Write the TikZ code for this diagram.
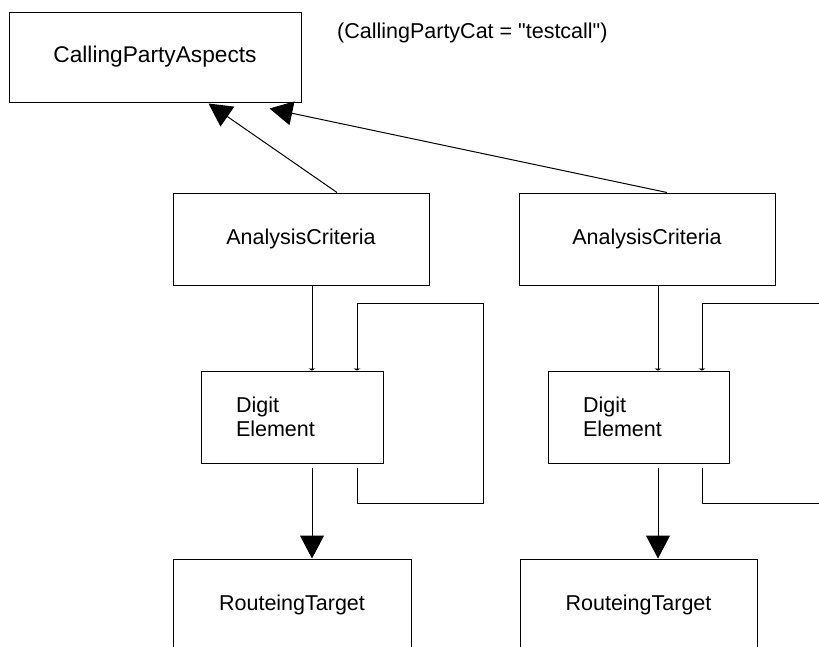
\documentclass[tikz,border=0pt]{standalone}
\usepackage{fontspec}
\setmainfont{Liberation Sans}
% a separate family without TeX ligatures, so that " stays straight
\newfontfamily\diagfont{Liberation Sans}
\usetikzlibrary{arrows.meta,calc}
\tikzset{
  box/.style={draw, line width=1pt, inner sep=0pt, font=\diagfont\fontsize{21.5}{24}\selectfont},
  note/.style={inner sep=0pt, font=\diagfont\fontsize{21.5}{24}\selectfont},
  wire/.style={line width=1pt},
  bigtip/.style={-{Triangle[length=23pt,width=24pt]}},
  smalltip/.style={-{Triangle[length=2pt,width=7pt]}},
}
\begin{document}
\begin{tikzpicture}[x=1pt,y=-1pt]
\useasboundingbox (0,0) rectangle (819,646);
\clip (0,0) rectangle (819,646);

% top class and its condition
\node[box, minimum width=292pt, minimum height=90pt, font=\diagfont\fontsize{22.7}{26}\selectfont] (cpa) at (155,57) {CallingPartyAspects};
\node[note, anchor=west] (cond) at (337,33) {(CallingPartyCat = "testcall")};

% left branch
\node[box, minimum width=256pt, minimum height=92pt] (ac1) at (301,239) {AnalysisCriteria};
\node[box, minimum width=182pt, minimum height=92pt, text width=112pt, inner xsep=35pt, align=left] (de1) at (292,417) {Digit\\Element};
\node[box, minimum width=238pt, minimum height=92pt] (rt1) at (292,605) {RouteingTarget};

% right branch
\node[box, minimum width=256pt, minimum height=92pt] (ac2) at (647,239) {AnalysisCriteria};
\node[box, minimum width=181pt, minimum height=92pt, text width=111pt, inner xsep=35pt, align=left] (de2) at (638.5,417) {Digit\\Element};
\node[box, minimum width=237pt, minimum height=92pt] (rt2) at (638.5,605) {RouteingTarget};

% generalisation arrows up to the top class
\draw[wire, bigtip] ($(ac1.north)+(36,0)$) -- ($(cpa.south west)+(200,1)$);
\draw[wire, bigtip] ($(ac2.north)+(20,0)$) -- ($(cpa.south west)+(261,6)$);

% left branch connectors
\draw[wire, smalltip] ($(ac1.south)+(11,0)$) -- ($(de1.north)+(20,0)$);
\draw[wire, bigtip] ($(de1.south)+(20,4)$) -- ($(rt1.north)+(20,0)$);
\draw[wire, smalltip] ($(de1.south)+(65,4)$) -- ++(0,36) -| ++(126,-200) -| ($(de1.north)+(65,0)$);

% right branch connectors
\draw[wire, smalltip] ($(ac2.south)+(11,0)$) -- ($(de2.north)+(19.5,0)$);
\draw[wire, bigtip] ($(de2.south)+(19.5,4)$) -- ($(rt2.north)+(19.5,0)$);
\draw[wire, smalltip] ($(de2.south)+(63.5,4)$) -- ++(0,36) -| ++(160,-200) -| ($(de2.north)+(63.5,0)$);
\end{tikzpicture}
\end{document}
